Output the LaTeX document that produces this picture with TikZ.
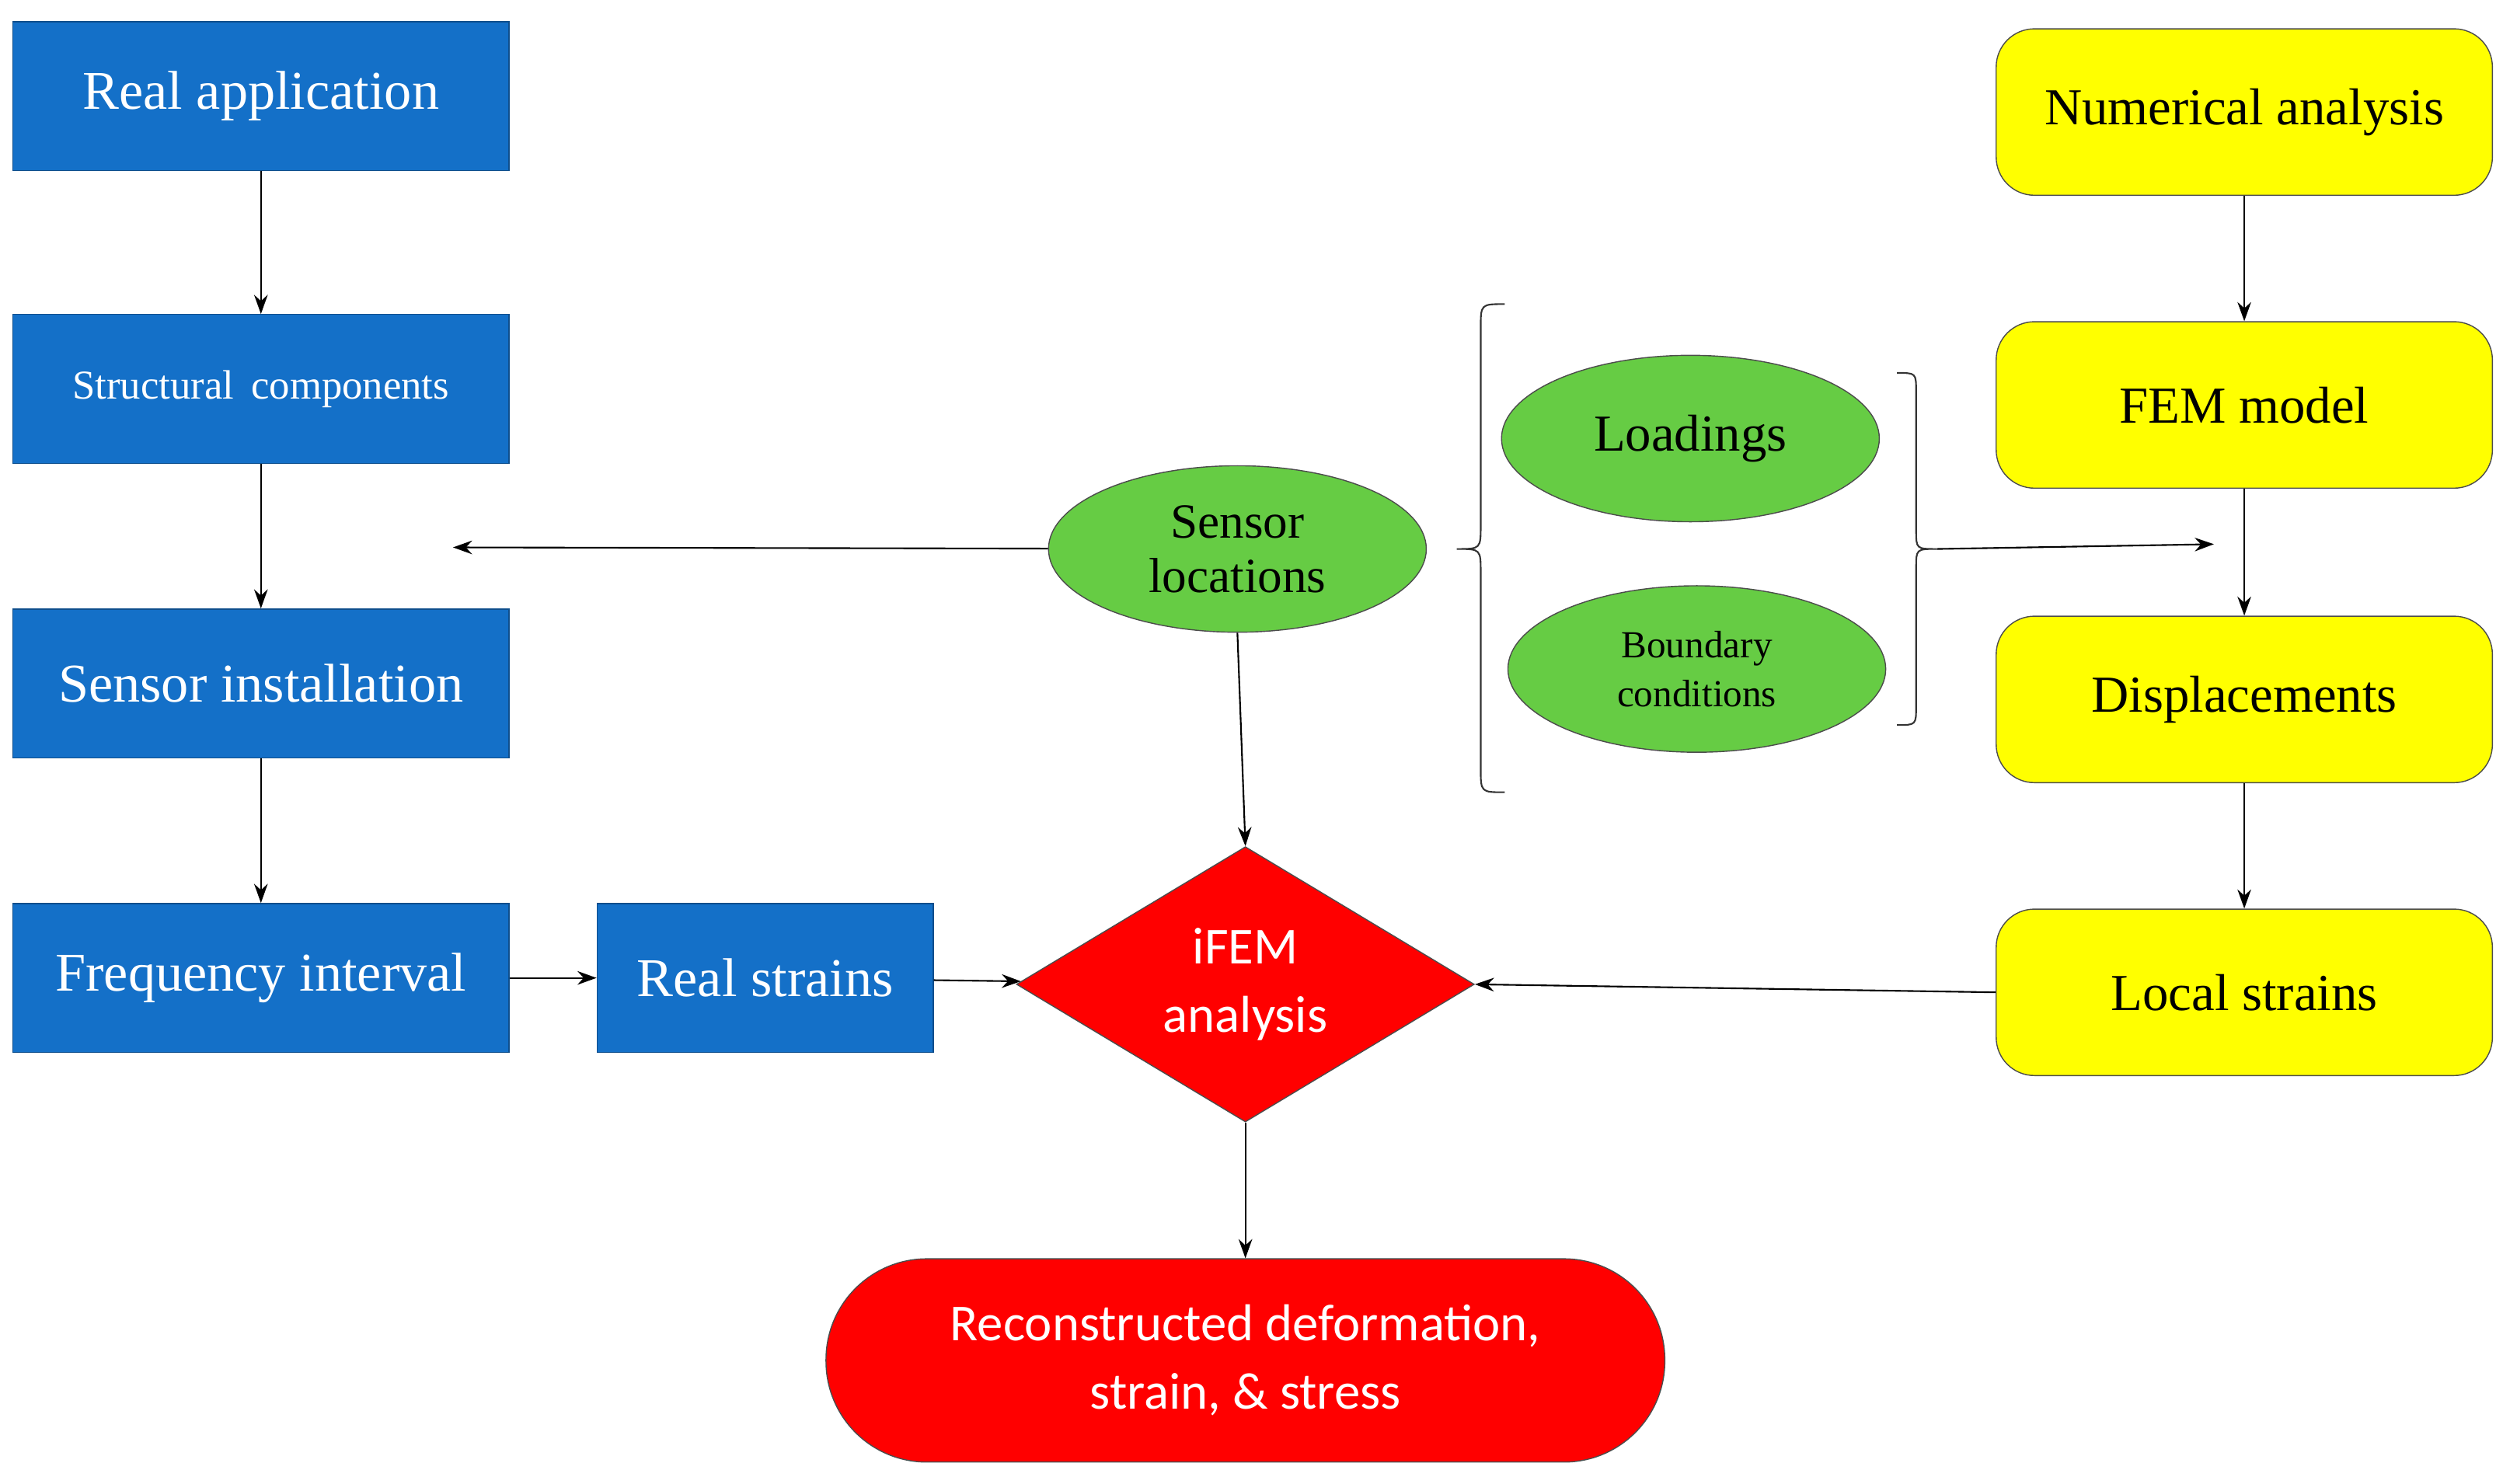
\documentclass[tikz,border=0pt]{standalone}
\usepackage{fontspec}
\setmainfont{Liberation Serif}
\newfontfamily\carl{Carlito}
\usetikzlibrary{shapes.geometric,arrows.meta,decorations.pathreplacing}
\definecolor{bl}{RGB}{20,112,200}
\definecolor{yl}{RGB}{255,255,0}
\definecolor{gr}{RGB}{102,204,68}
\definecolor{rd}{RGB}{255,0,0}
\begin{document}
\begin{tikzpicture}[x=0.0206cm,y=-0.0206cm,
 blue/.style={draw=bl!70!black,fill=bl,text=white,minimum width=310*0.0206cm,minimum height=93*0.0206cm,inner sep=0pt,font=\fontsize{20}{22}\selectfont},
 yel/.style={draw=black!70,fill=yl,rounded corners=14pt,minimum width=310*0.0206cm,minimum height=104*0.0206cm,inner sep=0pt,font=\fontsize{19}{22}\selectfont},
 grn/.style={ellipse,draw=black!70,fill=gr,minimum width=236*0.0206cm,minimum height=104*0.0206cm,inner sep=0pt,align=center},
 arr/.style={-{Stealth[length=7pt,width=5pt]},black,line width=0.6pt}]
\useasboundingbox (0,0) rectangle (1568,927);
\node[blue] (ra) at (163,60) {Real application};
\node[blue,font=\fontsize{15}{18}\selectfont] (sc) at (163,243) {Structural\, components};
\node[blue] (si) at (163,427) {Sensor installation};
\node[blue] (fi) at (163,611) {Frequency interval};
\node[blue,minimum width=210*0.0206cm] (rs) at (478,611) {Real strains};
\node[yel] (na) at (1402,70) {Numerical analysis};
\node[yel] (fem) at (1402,253) {FEM model};
\node[yel] (dis) at (1402,437) {Displacements};
\node[yel] (ls) at (1402,620) {Local strains};
\node[grn,font=\fontsize{18}{20}\selectfont] (sl) at (773,343) {Sensor\\locations};
\node[grn,font=\fontsize{19}{22}\selectfont] (ld) at (1056,274) {Loadings};
\node[grn,font=\fontsize{14}{18}\selectfont] (bc) at (1060,418) {Boundary\\conditions};
\node[diamond,draw=black!70,fill=rd,text=white,minimum width=286*0.0206cm,minimum height=172*0.0206cm,inner sep=0pt,align=center,font=\carl\fontsize{19}{25}\selectfont,aspect=1.66] (if) at (778,615) {iFEM\\analysis};
\node[draw=black!70,fill=rd,text=white,rounded corners=63*0.0206cm,minimum width=524*0.0206cm,minimum height=127*0.0206cm,inner sep=0pt,align=center,font=\carl\fontsize{19}{25}\selectfont] (rc) at (778,850) {Reconstructed deformation,\\strain, \& stress};
\coordinate (lt) at (283,342);
\coordinate (bt) at (1383,340);
\coordinate (bL) at (910,343);
\coordinate (bR) at (1210,343);
\draw[black!80,line width=0.6pt] (940,190) .. controls (925,190) and (925,190) .. (925,205) -- (925,328) .. controls (925,343) .. (bL) .. controls (925,343) .. (925,358) -- (925,480) .. controls (925,495) and (925,495) .. (940,495);
\draw[black!80,line width=0.6pt] (1185,233) .. controls (1197,233) .. (1197,245) -- (1197,331) .. controls (1197,343) .. (bR) .. controls (1197,343) .. (1197,355) -- (1197,441) .. controls (1197,453) .. (1185,453);
\draw[arr] (ra) -- (sc);
\draw[arr] (sc) -- (si);
\draw[arr] (si) -- (fi);
\draw[arr] (fi) -- (rs);
\draw[arr] (rs) -- (if);
\draw[arr] (na) -- (fem);
\draw[arr] (fem) -- (dis);
\draw[arr] (dis) -- (ls);
\draw[arr] (ls.west) -- (if.east);
\draw[arr] (sl) -- (lt);
\draw[arr] (sl.south) -- (if.north);
\draw[arr] (bR) -- (bt);
\draw[arr] (if) -- (rc);
\end{tikzpicture}
\end{document}
